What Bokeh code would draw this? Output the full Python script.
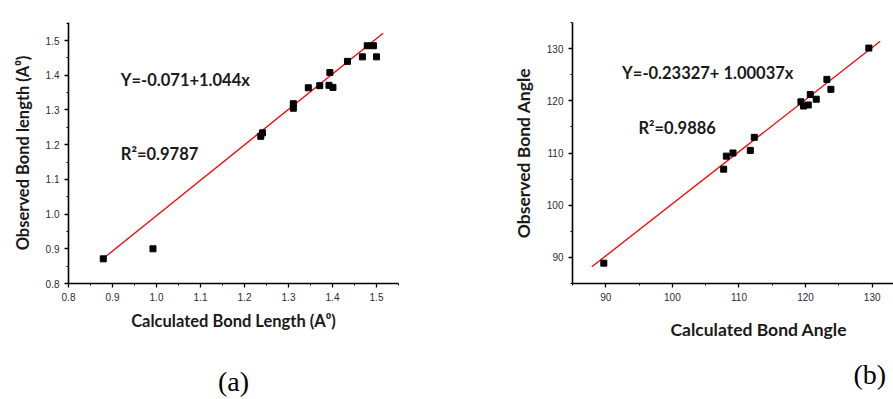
from bokeh.plotting import figure
from bokeh.layouts import row
from bokeh.models import FixedTicker, PrintfTickFormatter, Label, Range1d, Title, LinearAxis
from bokeh.embed import file_html
from bokeh.resources import INLINE

# ---- data (a): bond lengths ----
len_calc = [0.879, 0.992, 1.237, 1.241, 1.311, 1.311, 1.345, 1.371, 1.394, 1.392, 1.401, 1.434, 1.468, 1.479, 1.493, 1.500]
len_obs = [0.871, 0.900, 1.224, 1.234, 1.318, 1.305, 1.364, 1.370, 1.408, 1.371, 1.365, 1.440, 1.453, 1.485, 1.485, 1.453]
len_fit_x = [0.878, 1.515]
len_fit_y = [0.871, 1.521]
len_ticks = [0.8, 0.9, 1.0, 1.1, 1.2, 1.3, 1.4, 1.5]
len_minor = [0.85, 0.95, 1.05, 1.15, 1.25, 1.35, 1.45, 1.55]

# ---- data (b): bond angles ----
ang_calc = [89.7, 107.7, 108.1, 109.1, 111.7, 112.3, 119.3, 119.7, 120.4, 120.7, 121.6, 123.2, 123.8, 129.5]
ang_obs = [88.9, 106.9, 109.4, 110.0, 110.5, 113.0, 119.8, 119.0, 119.2, 121.2, 120.3, 124.1, 122.2, 130.1]
ang_fit_x = [87.9, 131.2]
ang_fit_y = [88.2, 131.4]
ang_xticks = [90, 100, 110, 120, 130]
ang_xminor = [85, 95, 105, 115, 125]
ang_yticks = [90, 100, 110, 120, 130]
ang_yminor = [85, 95, 105, 115, 125, 135]

captions = ["(a)", "(b)"]

TXT = "#1a1a1a"
LBL_FONT = "Lato"


def style(p, xt, xm, yt, ym, fmt):
    p.outline_line_color = None
    p.xgrid.visible = False
    p.ygrid.visible = False
    p.background_fill_color = "white"
    p.border_fill_color = "white"
    p.title.text = ""
    for ax, t, m in ((p.xaxis[0], xt, xm), (p.yaxis[0], yt, ym)):
        ax.ticker = FixedTicker(ticks=t, minor_ticks=m)
        ax.formatter = PrintfTickFormatter(format=fmt)
        ax.axis_line_color = "black"
        ax.axis_line_width = 1.6
        ax.major_tick_line_color = "black"
        ax.major_tick_line_width = 1.3
        ax.minor_tick_line_color = "black"
        ax.major_tick_out = 4
        ax.major_tick_in = 0
        ax.minor_tick_out = 2
        ax.minor_tick_in = 0
        ax.major_label_text_font = "Liberation Sans"
        ax.major_label_text_font_size = "10px"
        ax.major_label_text_color = "#2a2a3a"
        ax.major_label_standoff = 5
        ax.axis_label_text_font = LBL_FONT
        ax.axis_label_text_font_style = "bold"
        ax.axis_label_text_font_size = "16.5px"
        ax.axis_label_text_color = TXT
        ax.axis_label_standoff = 10


def eq_label(x, y, text):
    return Label(x=x, y=y, text=text, text_font=LBL_FONT, text_font_style="bold",
                 text_font_size="16.5px", text_color=TXT, text_baseline="middle")


def caption_axis(text, standoff):
    return LinearAxis(ticker=FixedTicker(ticks=[]), axis_line_color=None,
                      major_tick_line_color=None, minor_tick_line_color=None,
                      major_tick_out=0, major_tick_in=0, minor_tick_out=0, minor_tick_in=0,
                      major_label_standoff=0, axis_label=text, axis_label_standoff=standoff,
                      axis_label_text_font="Liberation Serif", axis_label_text_font_size="28px",
                      axis_label_text_font_style="normal", axis_label_text_color="black")


# ---------- figure (a) ----------
p1 = figure(width=448, height=399, output_backend="svg", toolbar_location=None,
            x_range=Range1d(0.8, 1.55), y_range=Range1d(0.8, 1.552),
            min_border_left=68, min_border_right=50, min_border_top=18, min_border_bottom=116)
style(p1, len_ticks, len_minor, len_ticks, len_minor, "%.1f")
p1.xaxis.axis_label = "Calculated Bond Length (A\u2070)"
p1.xaxis.axis_label_standoff = 7
p1.yaxis.axis_label = "Observed Bond length (A\u2070)"
p1.line(len_fit_x, len_fit_y, line_color="red", line_width=1.3)
p1.scatter(len_calc, len_obs, marker="square", size=6, fill_color="black", line_color="black")
p1.add_layout(eq_label(0.919, 1.385, "Y=-0.071+1.044x"))
p1.add_layout(eq_label(0.919, 1.174, "R\u00b2=0.9787"))
p1.add_layout(caption_axis(captions[0], 32), "below")

# ---------- figure (b) ----------
p2 = figure(width=445, height=399, output_backend="svg", toolbar_location=None,
            x_range=Range1d(85, 133.2), y_range=Range1d(85, 135),
            min_border_left=124, min_border_right=0, min_border_top=22, min_border_bottom=112)
style(p2, ang_xticks, ang_xminor, ang_yticks, ang_yminor, "%d")
p2.yaxis.axis_label = "Observed Bond Angle"
p2.yaxis.axis_label_text_font_size = "17.5px"
p2.line(ang_fit_x, ang_fit_y, line_color="red", line_width=1.3)
p2.scatter(ang_calc, ang_obs, marker="square", size=6, fill_color="black", line_color="black")
p2.add_layout(eq_label(92.45, 125.3, "Y=-0.23327+ 1.00037x"))
p2.add_layout(eq_label(94.9, 114.7, "R\u00b2=0.9886"))
p2.add_layout(Title(text="Calculated Bond Angle", align="left", offset=98, standoff=26, text_font=LBL_FONT,
                    text_font_size="17.5px", text_font_style="bold", text_color=TXT), "below")
p2.add_layout(Title(text=captions[1], align="left", offset=281, standoff=8, text_font="Liberation Serif",
                    text_font_size="28px", text_font_style="normal", text_color="black"), "below")

layout = row(p1, p2)
open("out.html", "w").write(file_html(layout, INLINE))
